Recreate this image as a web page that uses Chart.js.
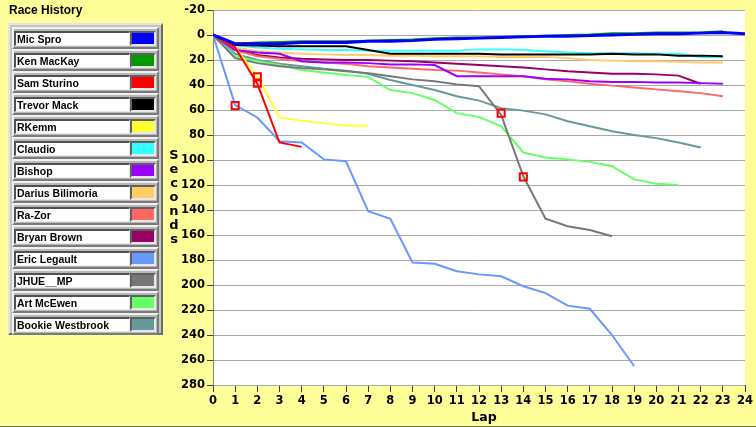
<!DOCTYPE html>
<html>
<head>
<meta charset="utf-8">
<script src="https://cdn.jsdelivr.net/npm/chart.js@4.4.1/dist/chart.umd.min.js"></script>
<style>
  html, body { margin:0; padding:0; }
  body { width:756px; height:427px; background:#FFFF99; position:relative; overflow:hidden; font-family:"Liberation Sans", Arial, sans-serif; }
  #frame { position:absolute; left:0; top:0; width:756px; height:426px; border-bottom:1px solid #6E6E3A; box-sizing:content-box; }
  #cv { position:absolute; left:0; top:0; }
  #title { position:absolute; left:9px; top:3px; font:bold 12px "Liberation Sans", Arial, sans-serif; color:#000; }
  #legend { position:absolute; left:8px; top:23px; width:151px; height:308px; background:#C4C4C4;
            border:2px solid; border-color:#E4E4E4 #6A6A6A #6A6A6A #E4E4E4; }
  .row { position:absolute; left:2px; width:143px; height:18px; background:#B8B8B8;
         border:2px solid; border-color:#F0F0F0 #7A7A7A #7A7A7A #F0F0F0; }
  .txt { position:absolute; left:0px; top:2px; width:112px; height:12px; background:#fff;
         border-left:2px solid #505050; border-top:2px solid #505050; border-right:1px solid #E8E8E8; border-bottom:1px solid #E8E8E8;
         font:bold 10.5px "Liberation Sans", Arial, sans-serif; line-height:13px; color:#000; white-space:nowrap; overflow:hidden; padding-left:1px; }
  .sw { position:absolute; left:116px; top:2px; width:22px; height:11px;
        border:2px solid; border-color:#606060 #E8E8E8 #E8E8E8 #606060; }
  #ytitle { position:absolute; left:167px; top:148px; width:14px; text-align:center;
            font:bold 13px "DejaVu Sans", sans-serif; line-height:14px; color:#000; }
  #xtitle { position:absolute; left:459px; top:409px; width:50px; text-align:center;
            font:bold 12.5px "DejaVu Sans", sans-serif; color:#000; }
</style>
</head>
<body>
<div id="frame"></div>
<canvas id="cv" width="756" height="427"></canvas>
<div id="title">Race History</div>
<div id="legend"></div>
<div id="ytitle"></div>
<div id="xtitle">Lap</div>
<script>
// ---- data (seconds behind leader, by lap index starting at 0) ----
const driverNames = ["Mic Spro","Ken MacKay","Sam Sturino","Trevor Mack","RKemm","Claudio","Bishop",
  "Darius Bilimoria","Ra-Zor","Bryan Brown","Eric Legault","JHUE__MP","Art McEwen","Bookie Westbrook"];
const driverColors = ["#0000FF","#009900","#FF0000","#000000","#FFFF33","#33FFFF","#9900FF",
  "#FFCC66","#FF6666","#990066","#6699FF","#777777","#66FF66","#669999"];

const micSpro        = [0,7,7,7,6,6,6,5,5,4.5,3.5,3,2.5,2,1.5,1,1,0.5,0,-0.5,-1,-1,-1.5,-2,-1];
const kenMacKay      = [0,7,6,5.5,5,5,5,4.5,4,3.5,2.5,2,2,1.5,1,0.5,0,-0.5,-1.5,-1.5,-2,-2,-2,-3];
const samSturino     = [0,10,39,86,89.5];
const trevorMack     = [0,8,8.5,9,9,9,9,12,15,15,15,15,15,15.5,15.5,15.5,15.5,15.5,15,15.5,15.5,16.5,16.5,17];
const rKemm          = [0,10,33,66,68.5,70.5,72.5,72.5];
const claudio        = [0,8,10,11,11.5,12,12,12.5,12.5,12.5,12.5,12.5,11.5,11.5,12,13,14,14.5,14.5,14.5,15,15,17.5,17.5];
const bishop         = [0,12,14,15,21,22,22,22.5,23.5,23.5,24,33,33,33,33,35,35.5,37,37.5,37.5,38,38,38.5,39];
const dariusBilimoria= [0,10,13,14,15,15.5,16,16,16.5,16.5,17,17,17,17.5,17.5,17.5,18.5,20,20.5,21,21,21.5,22,22];
const raZor          = [0,12,17,19,21,22,23,25,26,27,28,28.5,30,31.5,33,35.5,37,39,40.5,42,43.5,45,46.5,49];
const bryanBrown     = [0,12,16,18,19,19.5,20,20,20.5,21,22,23,24,25,26,27.5,29,30,31,31,31.5,32.5,39];
const ericLegault    = [0,56,66,85,86,99.5,101,141,147,182,183,189,191.5,193,201,206.5,216.5,219,240,265];
const jhueMP         = [0,18.5,22.5,25,26.5,27.5,29,30.5,33,35.5,37,39.5,41,64,113,147,153,156,161];
const artMcEwen      = [0,17,21,24,28,30,32,33.5,44,46.5,52,62.5,65.5,73,94,98,99.5,101.5,105,115.5,119,120];
const bookieWestbrook= [0,15,20,23,25,27,28.5,31,36,40,44,49,52.5,58.5,60.5,63.5,69,73,77,80,82.5,86,90];

const markerLaps    = [1,2,2,13,14];
const markerSeconds = [56.5,33.5,38.5,62.5,113.5];

const lapTicksMax = 24;
const secTickMin = -20, secTickMax = 280, secTickStep = 20;

const seriesValues = [micSpro,kenMacKay,samSturino,trevorMack,rKemm,claudio,bishop,
  dariusBilimoria,raZor,bryanBrown,ericLegault,jhueMP,artMcEwen,bookieWestbrook];

// ---- HTML legend ----
const legend = document.getElementById('legend');
driverNames.forEach((n,i)=>{
  const r = document.createElement('div'); r.className='row'; r.style.top = (2 + i*22) + 'px';
  const t = document.createElement('div'); t.className='txt'; t.textContent = n;
  const s = document.createElement('div'); s.className='sw'; s.style.background = driverColors[i];
  r.appendChild(t); r.appendChild(s); legend.appendChild(r);
});
document.getElementById('ytitle').innerHTML = "Seconds".split('').join('<br>');

// ---- chart ----
const datasets = [{
  type:'scatter', label:'marks', order:-1,
  data: markerLaps.map((x,i)=>({x:x, y:markerSeconds[i]})),
  pointStyle:'rect', pointRadius:5, pointBorderWidth:2, borderColor:'#FF0000', backgroundColor:'rgba(0,0,0,0)', showLine:false
}];
seriesValues.forEach((arr,i)=>{
  datasets.push({
    label: driverNames[i],
    data: arr.map((v,lap)=>({x:lap, y:v})),
    borderColor: driverColors[i], backgroundColor: driverColors[i],
    borderWidth: i===0 ? 3 : 2, pointRadius:0, tension:0, fill:false
  });
});

const tickFont = {family:'"DejaVu Sans", sans-serif', size:11.5, weight:'bold'};
new Chart(document.getElementById('cv'), {
  type:'line',
  data:{datasets},
  options:{
    responsive:false, animation:false, devicePixelRatio:1,
    layout:{padding:{left:0, right:11, top:10, bottom:0}},
    plugins:{legend:{display:false}, tooltip:{enabled:false}},
    scales:{
      x:{type:'linear', min:0, max:lapTicksMax,
         ticks:{stepSize:1, color:'#000', font:tickFont, padding:2, maxRotation:0, autoSkip:false},
         grid:{drawOnChartArea:false, drawTicks:true, tickLength:7, tickColor:'#404040'},
         border:{display:false},
         afterFit:(s)=>{ s.height = 42; }},
      y:{type:'linear', reverse:true, min:secTickMin, max:secTickMax,
         ticks:{stepSize:secTickStep, color:'#000', font:tickFont, padding:2},
         grid:{color:'#A8A8A8', lineWidth:1, tickLength:6, tickColor:'#404040'},
         border:{display:true, color:'#808080', width:1},
         afterFit:(s)=>{ s.width = 213; }}
    }
  },
  plugins:[{
    id:'whiteArea',
    beforeDraw(c){ const a=c.chartArea, ctx=c.ctx; ctx.save(); ctx.fillStyle='#FFFFFF'; ctx.fillRect(a.left,a.top,a.right-a.left,a.bottom-a.top); ctx.restore(); }
  }]
});
</script>
</body>
</html>
